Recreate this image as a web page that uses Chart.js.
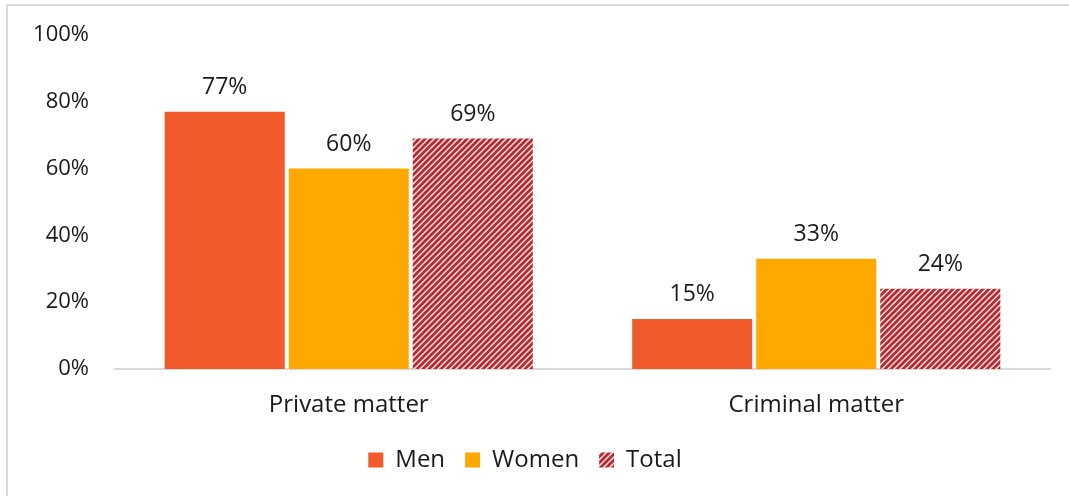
<!DOCTYPE html>
<html>
<head>
<meta charset="utf-8">
<script src="https://cdn.jsdelivr.net/npm/chart.js@4"></script>
<style>
  html, body { margin: 0; padding: 0; background: #fff; overflow: hidden; }
  #frame { position: absolute; left: 6px; top: 4px; width: 1080px; height: 510px; border: 2px solid #d9d9d9; box-sizing: border-box; }
  #wrap { position: absolute; left: 0; top: 0; width: 1069px; height: 496px; }
</style>
</head>
<body>
<div id="frame"></div>
<div id="wrap"><canvas id="chart"></canvas></div>
<script>
// data
const categories = ["Private matter", "Criminal matter"];
const men = [77, 15];
const women = [60, 33];
const total = [69, 24];
const yTicks = [0, 20, 40, 60, 80, 100];

const FONT = "'Open Sans', sans-serif";

// diagonal stripes for "Total"
function stripes(color) {
    const c = document.createElement("canvas");
    c.width = 6; c.height = 6;
    const g = c.getContext("2d");
    g.fillStyle = "#fff";
    g.fillRect(0, 0, 6, 6);
    g.strokeStyle = color;
    g.lineWidth = 3;
    g.beginPath();
    g.moveTo(-3, 9); g.lineTo(9, -3);
    g.moveTo(-3, 3); g.lineTo(3, -3);
    g.moveTo(3, 9); g.lineTo(9, 3);
    g.stroke();
    return g.createPattern(c, "repeat");
}

// value labels above bars
const valueLabels = {
    id: "valueLabels",
    afterDatasetsDraw(chart) {
        const ctx = chart.ctx;
        ctx.save();
        ctx.font = "23px " + FONT;
        ctx.fillStyle = "#1a1a1a";
        ctx.textAlign = "center";
        ctx.textBaseline = "alphabetic";
        chart.data.datasets.forEach((ds, i) => {
            chart.getDatasetMeta(i).data.forEach((bar, j) => {
                ctx.fillText(ds.data[j] + "%", bar.x, bar.y - 18);
            });
        });
        ctx.restore();
    }
};

const ctx = document.getElementById("chart").getContext("2d");
const chart = new Chart(ctx, {
    type: "bar",
    data: {
        labels: categories,
        datasets: [
            { label: "Men", data: men, backgroundColor: "#F15A2B" },
            { label: "Women", data: women, backgroundColor: "#FFA800" },
            { label: "Total", data: total, backgroundColor: stripes("#C0272D") }
        ]
    },
    options: {
        responsive: true,
        maintainAspectRatio: false,
        animation: false,
        categoryPercentage: 0.796,
        barPercentage: 0.968,
        layout: { padding: { top: 35, right: 19, bottom: 14, left: 0 } },
        scales: {
            y: {
                min: 0,
                max: 100,
                afterFit: (s) => {
                    s.width = 115;
                    // tick padding is added to the top overhang, keep only half a label
                    s.paddingTop = 13;
                    s.paddingBottom = 13;
                },
                afterBuildTicks: (s) => { s.ticks = yTicks.map(v => ({ value: v })); },
                grid: { display: false, drawTicks: false },
                border: { display: false },
                ticks: {
                    padding: 26,
                    color: "#1a1a1a",
                    font: { family: FONT, size: 22 },
                    callback: (v) => v + "%"
                }
            },
            x: {
                afterFit: (s) => { s.height = 59; },
                grid: { display: false, drawTicks: false },
                border: { display: true, color: "#d9d9d9", width: 2 },
                ticks: {
                    padding: 22,
                    color: "#1a1a1a",
                    font: { family: FONT, size: 24 }
                }
            }
        },
        plugins: {
            legend: {
                position: "bottom",
                labels: {
                    color: "#1a1a1a",
                    font: { family: FONT, size: 24 },
                    boxWidth: 15,
                    boxHeight: 15,
                    padding: 20
                }
            },
            tooltip: { enabled: false }
        }
    },
    plugins: [valueLabels]
});
</script>
</body>
</html>
